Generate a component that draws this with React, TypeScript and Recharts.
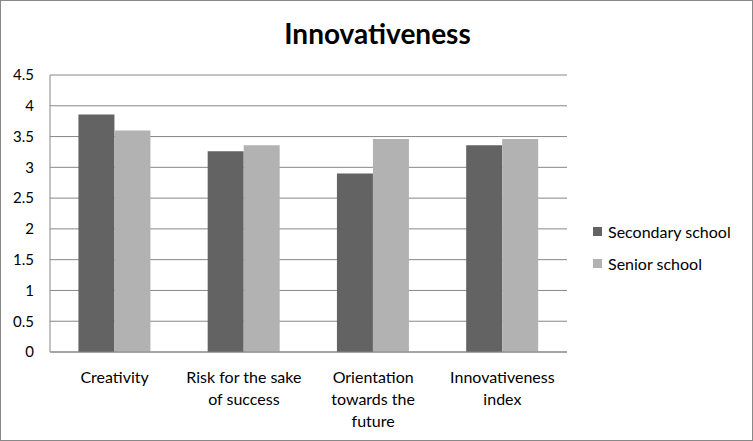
import React from 'react'
import { BarChart, Bar, XAxis, YAxis, CartesianGrid, Legend } from 'recharts'

const categories = ['Creativity', 'Risk for the sake\nof success', 'Orientation\ntowards the\nfuture', 'Innovativeness\nindex']
const secondarySchool = [3.86, 3.26, 2.9, 3.36]
const seniorSchool = [3.6, 3.36, 3.46, 3.46]
const yTicks = [0, 0.5, 1, 1.5, 2, 2.5, 3, 3.5, 4, 4.5]

const data = categories.map((name, i) => ({
  name,
  secondary: secondarySchool[i],
  senior: seniorSchool[i],
}))

const FONT = 'Lato, "Open Sans", sans-serif'
const GRID = '#878787'

function CategoryTick(props: any) {
  const { x, y, payload } = props
  const lines = String(payload.value).split('\n')
  return (
    <g transform={`translate(${x},${y})`}>
      {lines.map((line, i) => (
        <text key={i} x={0} y={23 + i * 22} textAnchor="middle" fill="#000" fontSize={16} fontFamily={FONT}>
          {line}
        </text>
      ))}
    </g>
  )
}

function LegendBox({ payload }: any) {
  return (
    <div style={{ fontFamily: FONT, fontSize: 16, color: '#000' }}>
      {(payload || []).map((p: any) => (
        <div key={p.value} style={{ display: 'flex', alignItems: 'center', height: 32 }}>
          <span style={{ width: 9, height: 9, background: p.color, marginRight: 6, display: 'inline-block' }} />
          {p.value}
        </div>
      ))}
    </div>
  )
}

export default function App() {
  return (
    <div
      style={{
        position: 'absolute',
        left: 0,
        top: 0,
        width: 753,
        height: 441,
        background: '#fff',
        boxSizing: 'border-box',
        border: '1px solid #888',
      }}
    >
      <div
        style={{
          position: 'absolute',
          left: 0,
          top: 15,
          width: 753,
          textAlign: 'center',
          fontFamily: FONT,
          fontWeight: 'bold',
          fontSize: 28,
          color: '#000',
        }}
      >
        Innovativeness
      </div>
      <BarChart
        width={751}
        height={439}
        data={data}
        margin={{ top: 74, right: 185, bottom: 0, left: 0 }}
        barCategoryGap="22%"
        barGap={0}
      >
        <CartesianGrid vertical={false} stroke={GRID} strokeWidth={1} />
        <XAxis dataKey="name" height={88} axisLine={{ stroke: GRID }} tickLine={false} tick={<CategoryTick />} interval={0} />
        <YAxis
          width={49}
          domain={[0, 4.5]}
          ticks={yTicks}
          axisLine={{ stroke: GRID }}
          tickLine={false}
          tickMargin={10}
          tick={{ fill: '#000', fontSize: 15, fontFamily: FONT }}
        />
        <Legend
          layout="vertical"
          align="center"
          verticalAlign="middle"
          content={<LegendBox />}
          wrapperStyle={{ left: 592, top: 214, width: 160 }}
        />
        <Bar dataKey="secondary" name="Secondary school" fill="#636363" isAnimationActive={false} />
        <Bar dataKey="senior" name="Senior school" fill="#b2b2b2" isAnimationActive={false} />
      </BarChart>
    </div>
  )
}
